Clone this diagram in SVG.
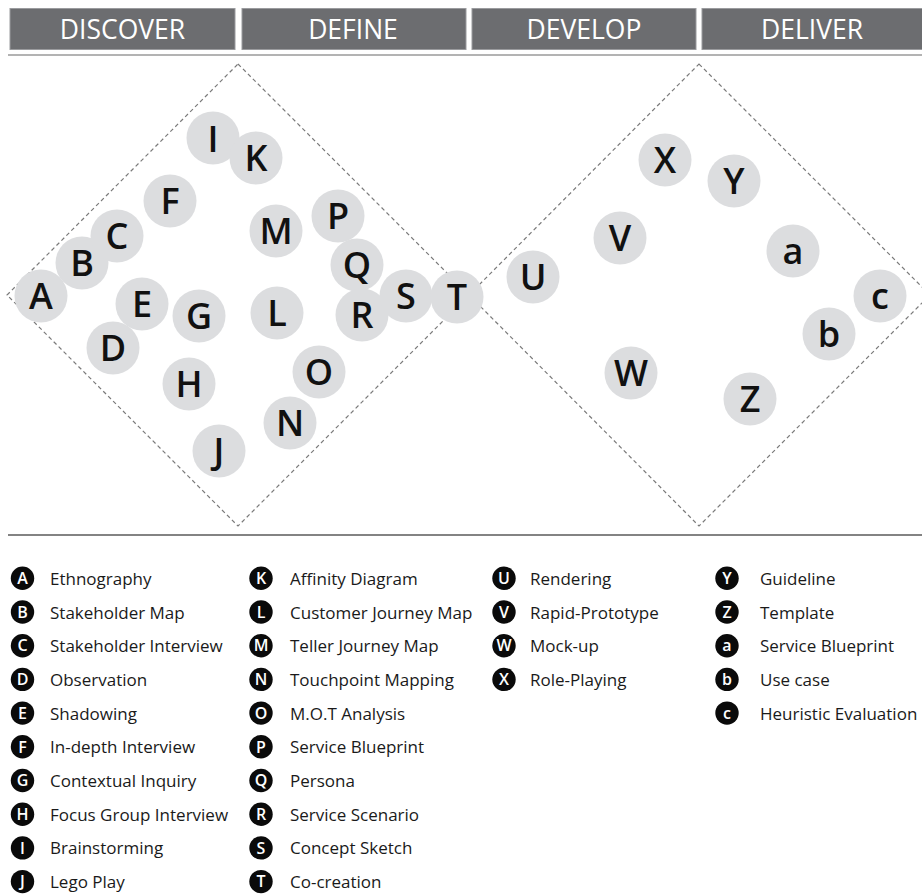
<svg xmlns="http://www.w3.org/2000/svg" width="922" height="896" viewBox="0 0 922 896">
  <style>
    .bar { fill: #6c6d70; stroke: #9a9b9e; stroke-width: 1; }
    .phase { font-family: "Open Sans", "Noto Sans", sans-serif; font-size: 26.5px; font-weight: 500; fill: #ffffff; text-anchor: middle; }
    .rule { stroke: #9a9a9a; stroke-width: 1.6; }
    .rule2 { stroke: #5a5a5a; stroke-width: 1.4; }
    .diamond { fill: none; stroke: #7a7a7a; stroke-width: 1.2; stroke-dasharray: 4 3; }
    .node circle { fill: #dcdddf; }
    .node text { font-family: "Open Sans", "Noto Sans", sans-serif; font-size: 36px; font-weight: 600; fill: #111; text-anchor: middle; }
    .key circle { fill: #0a0a0a; }
    .key .k { font-family: "Open Sans", "Noto Sans", sans-serif; font-size: 16px; font-weight: 600; fill: #fff; text-anchor: middle; }
    .key .t { font-family: "Open Sans", "Noto Sans", sans-serif; font-size: 17px; fill: #1a1a1a; }
  </style>

  <!-- phase header -->
  <g id="header">
    <rect class="bar" x="10" y="8.5" width="225" height="41"/>
    <rect class="bar" x="242" y="8.5" width="224" height="41"/>
    <rect class="bar" x="472" y="8.5" width="224" height="41"/>
    <rect class="bar" x="702" y="8.5" width="222" height="41"/>
    <text class="phase" x="122.5" y="39">DISCOVER</text>
    <text class="phase" x="353" y="39">DEFINE</text>
    <text class="phase" x="584" y="39">DEVELOP</text>
    <text class="phase" x="812" y="39">DELIVER</text>
    <line class="rule" x1="8" y1="55" x2="922" y2="55"/>
  </g>

  <!-- double diamond outlines -->
  <g id="connectors">
    <path class="diamond" d="M238,64 L469,295 L238,526 L7,295 Z"/>
    <path class="diamond" d="M699,64 L930,295 L699,526 L469,295 Z"/>
  </g>

  <!-- method nodes -->
  <g id="node-A" class="node"><circle cx="41" cy="296" r="26.5"/><text x="41" y="309">A</text></g>
  <g id="node-B" class="node"><circle cx="82" cy="263" r="26.5"/><text x="82" y="276">B</text></g>
  <g id="node-C" class="node"><circle cx="117" cy="236" r="26.5"/><text x="117" y="249">C</text></g>
  <g id="node-D" class="node"><circle cx="113" cy="348" r="26.5"/><text x="113" y="361">D</text></g>
  <g id="node-E" class="node"><circle cx="142" cy="304" r="26.5"/><text x="142" y="317">E</text></g>
  <g id="node-F" class="node"><circle cx="170" cy="201" r="26.5"/><text x="170" y="214">F</text></g>
  <g id="node-G" class="node"><circle cx="199" cy="316" r="26.5"/><text x="199" y="329">G</text></g>
  <g id="node-H" class="node"><circle cx="189" cy="384" r="26.5"/><text x="189" y="397">H</text></g>
  <g id="node-I" class="node"><circle cx="213" cy="138" r="26.5"/><text x="213" y="152">I</text></g>
  <g id="node-K" class="node"><circle cx="256" cy="158" r="26.5"/><text x="256" y="171">K</text></g>
  <g id="node-J" class="node"><circle cx="219" cy="451" r="26.5"/><text x="219" y="464">J</text></g>
  <g id="node-L" class="node"><circle cx="277" cy="313" r="26.5"/><text x="277" y="326">L</text></g>
  <g id="node-M" class="node"><circle cx="276" cy="231" r="26.5"/><text x="276" y="244">M</text></g>
  <g id="node-N" class="node"><circle cx="290" cy="423" r="26.5"/><text x="290" y="436">N</text></g>
  <g id="node-O" class="node"><circle cx="319" cy="372" r="26.5"/><text x="319" y="385">O</text></g>
  <g id="node-P" class="node"><circle cx="338" cy="216" r="26.5"/><text x="338" y="229">P</text></g>
  <g id="node-Q" class="node"><circle cx="357" cy="265" r="26.5"/><text x="357" y="278">Q</text></g>
  <g id="node-R" class="node"><circle cx="362" cy="315" r="26.5"/><text x="362" y="328">R</text></g>
  <g id="node-S" class="node"><circle cx="406" cy="296" r="26.5"/><text x="406" y="309">S</text></g>
  <g id="node-T" class="node"><circle cx="457" cy="297" r="26.5"/><text x="457" y="310">T</text></g>
  <g id="node-U" class="node"><circle cx="533" cy="277" r="26.5"/><text x="533" y="290">U</text></g>
  <g id="node-V" class="node"><circle cx="620" cy="238" r="26.5"/><text x="620" y="251">V</text></g>
  <g id="node-W" class="node"><circle cx="631" cy="373" r="26.5"/><text x="631" y="386">W</text></g>
  <g id="node-X" class="node"><circle cx="665" cy="160" r="26.5"/><text x="665" y="173">X</text></g>
  <g id="node-Y" class="node"><circle cx="734" cy="181" r="26.5"/><text x="734" y="194">Y</text></g>
  <g id="node-Z" class="node"><circle cx="750" cy="399" r="26.5"/><text x="750" y="412">Z</text></g>
  <g id="node-a" class="node"><circle cx="793" cy="251" r="26.5"/><text x="793" y="264">a</text></g>
  <g id="node-b" class="node"><circle cx="829" cy="334" r="26.5"/><text x="829" y="347">b</text></g>
  <g id="node-c" class="node"><circle cx="880" cy="296" r="26.5"/><text x="880" y="309">c</text></g>

  <line class="rule2" x1="8" y1="535" x2="922" y2="535"/>

  <!-- legend -->
  <g id="legend" class="key">
    <g id="key-A"><circle cx="22.5" cy="578.3" r="11.7"/><text class="k" x="22.5" y="584">A</text><text class="t" x="50" y="584.8">Ethnography</text></g>
    <g id="key-B"><circle cx="22.5" cy="612" r="11.7"/><text class="k" x="22.5" y="617.7">B</text><text class="t" x="50" y="618.5">Stakeholder Map</text></g>
    <g id="key-C"><circle cx="22.5" cy="645.7" r="11.7"/><text class="k" x="22.5" y="651.4">C</text><text class="t" x="50" y="652.2">Stakeholder Interview</text></g>
    <g id="key-D"><circle cx="22.5" cy="679.4" r="11.7"/><text class="k" x="22.5" y="685.1">D</text><text class="t" x="50" y="685.9">Observation</text></g>
    <g id="key-E"><circle cx="22.5" cy="713.1" r="11.7"/><text class="k" x="22.5" y="718.8">E</text><text class="t" x="50" y="719.6">Shadowing</text></g>
    <g id="key-F"><circle cx="22.5" cy="746.8" r="11.7"/><text class="k" x="22.5" y="752.5">F</text><text class="t" x="50" y="753.3">In-depth Interview</text></g>
    <g id="key-G"><circle cx="22.5" cy="780.5" r="11.7"/><text class="k" x="22.5" y="786.2">G</text><text class="t" x="50" y="787">Contextual Inquiry</text></g>
    <g id="key-H"><circle cx="22.5" cy="814.2" r="11.7"/><text class="k" x="22.5" y="819.9">H</text><text class="t" x="50" y="820.7">Focus Group Interview</text></g>
    <g id="key-I"><circle cx="22.5" cy="847.9" r="11.7"/><text class="k" x="22.5" y="853.6">I</text><text class="t" x="50" y="854.4">Brainstorming</text></g>
    <g id="key-J"><circle cx="22.5" cy="881.6" r="11.7"/><text class="k" x="22.5" y="887.3">J</text><text class="t" x="50" y="888.1">Lego Play</text></g>

    <g id="key-K"><circle cx="261" cy="578.3" r="11.7"/><text class="k" x="261" y="584">K</text><text class="t" x="290" y="584.8">Affinity Diagram</text></g>
    <g id="key-L"><circle cx="261" cy="612" r="11.7"/><text class="k" x="261" y="617.7">L</text><text class="t" x="290" y="618.5">Customer Journey Map</text></g>
    <g id="key-M"><circle cx="261" cy="645.7" r="11.7"/><text class="k" x="261" y="651.4">M</text><text class="t" x="290" y="652.2">Teller Journey Map</text></g>
    <g id="key-N"><circle cx="261" cy="679.4" r="11.7"/><text class="k" x="261" y="685.1">N</text><text class="t" x="290" y="685.9">Touchpoint Mapping</text></g>
    <g id="key-O"><circle cx="261" cy="713.1" r="11.7"/><text class="k" x="261" y="718.8">O</text><text class="t" x="290" y="719.6">M.O.T Analysis</text></g>
    <g id="key-P"><circle cx="261" cy="746.8" r="11.7"/><text class="k" x="261" y="752.5">P</text><text class="t" x="290" y="753.3">Service Blueprint</text></g>
    <g id="key-Q"><circle cx="261" cy="780.5" r="11.7"/><text class="k" x="261" y="786.2">Q</text><text class="t" x="290" y="787">Persona</text></g>
    <g id="key-R"><circle cx="261" cy="814.2" r="11.7"/><text class="k" x="261" y="819.9">R</text><text class="t" x="290" y="820.7">Service Scenario</text></g>
    <g id="key-S"><circle cx="261" cy="847.9" r="11.7"/><text class="k" x="261" y="853.6">S</text><text class="t" x="290" y="854.4">Concept Sketch</text></g>
    <g id="key-T"><circle cx="261" cy="881.6" r="11.7"/><text class="k" x="261" y="887.3">T</text><text class="t" x="290" y="888.1">Co-creation</text></g>

    <g id="key-U"><circle cx="504" cy="578.3" r="11.7"/><text class="k" x="504" y="584">U</text><text class="t" x="530" y="584.8">Rendering</text></g>
    <g id="key-V"><circle cx="504" cy="612" r="11.7"/><text class="k" x="504" y="617.7">V</text><text class="t" x="530" y="618.5">Rapid-Prototype</text></g>
    <g id="key-W"><circle cx="504" cy="645.7" r="11.7"/><text class="k" x="504" y="651.4">W</text><text class="t" x="530" y="652.2">Mock-up</text></g>
    <g id="key-X"><circle cx="504" cy="679.4" r="11.7"/><text class="k" x="504" y="685.1">X</text><text class="t" x="530" y="685.9">Role-Playing</text></g>

    <g id="key-Y"><circle cx="727" cy="578.3" r="11.7"/><text class="k" x="727" y="584">Y</text><text class="t" x="760" y="584.8">Guideline</text></g>
    <g id="key-Z"><circle cx="727" cy="612" r="11.7"/><text class="k" x="727" y="617.7">Z</text><text class="t" x="760" y="618.5">Template</text></g>
    <g id="key-a"><circle cx="727" cy="645.7" r="11.7"/><text class="k" x="727" y="651.4">a</text><text class="t" x="760" y="652.2">Service Blueprint</text></g>
    <g id="key-b"><circle cx="727" cy="679.4" r="11.7"/><text class="k" x="727" y="685.1">b</text><text class="t" x="760" y="685.9">Use case</text></g>
    <g id="key-c"><circle cx="727" cy="713.1" r="11.7"/><text class="k" x="727" y="718.8">c</text><text class="t" x="760" y="719.6">Heuristic Evaluation</text></g>
  </g>
</svg>
